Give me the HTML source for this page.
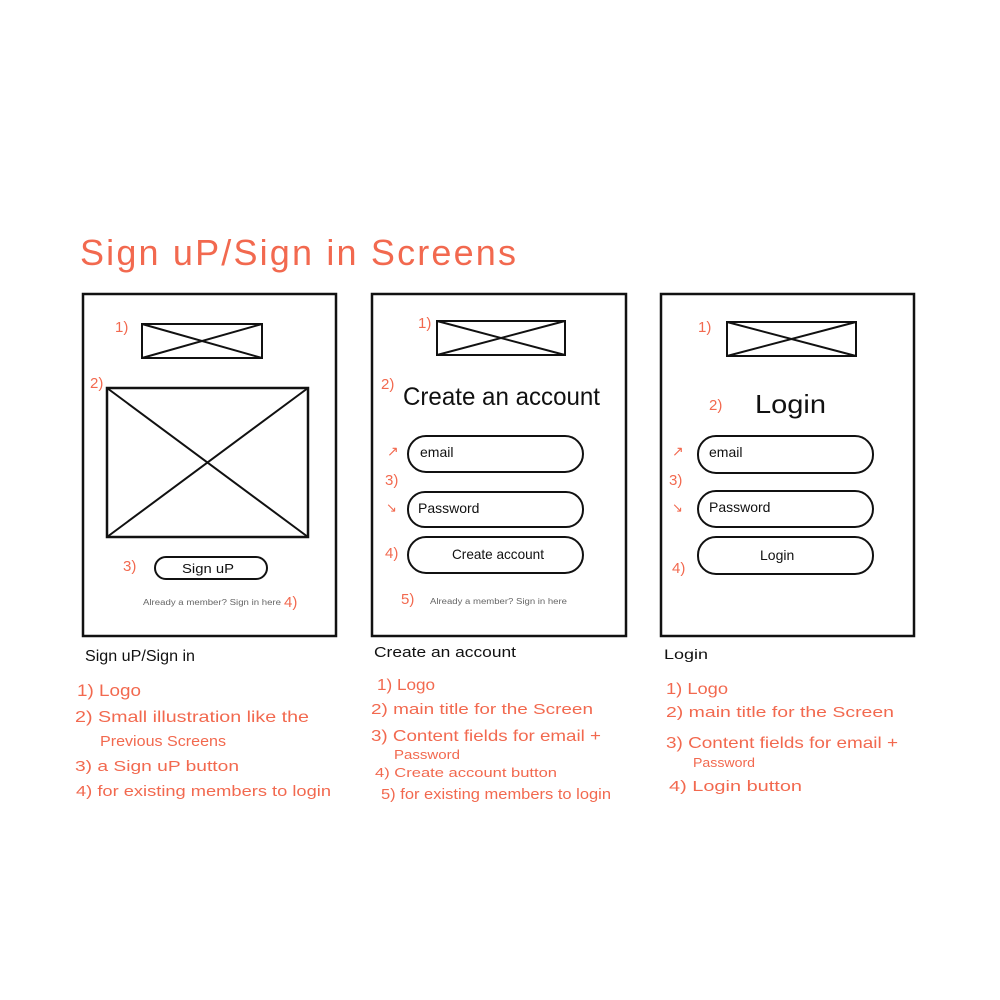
<!DOCTYPE html>
<html><head><meta charset="utf-8">
<style>
html,body{margin:0;padding:0;background:#fff;}
svg{display:block;}
text{font-family:"Liberation Sans",sans-serif;}
.r{fill:#f2694f;}
.k{fill:#111;}
.g{fill:#666;}
.f{fill:none;stroke:#111;stroke-width:2.5;}
.t{fill:none;stroke:#111;stroke-width:2;}
</style></head>
<body>
<svg width="1000" height="1000" viewBox="0 0 1000 1000" xmlns="http://www.w3.org/2000/svg">
<rect width="1000" height="1000" fill="#fff"/>
<!-- Title -->
<text class="r" x="80" y="265" font-size="36" textLength="436" lengthAdjust="spacing">Sign uP/Sign in Screens</text>

<!-- Frames -->
<rect class="f" x="83" y="294" width="253" height="342"/>
<rect class="f" x="372" y="294" width="254" height="342"/>
<rect class="f" x="661" y="294" width="253" height="342"/>

<!-- Frame 1 -->
<text class="r" x="115" y="332" font-size="15">1)</text>
<rect class="t" x="142" y="324" width="120" height="34"/>
<path class="t" d="M142 324 L262 358 M262 324 L142 358"/>
<text class="r" x="90" y="388" font-size="15">2)</text>
<rect class="f" x="107" y="388" width="201" height="149"/>
<path class="t" d="M107 388 L308 537 M308 388 L107 537"/>
<text class="r" x="123" y="571" font-size="15">3)</text>
<rect class="t" x="155" y="557" width="112" height="22" rx="11"/>
<text class="k" x="182" y="573" font-size="13" textLength="52" lengthAdjust="spacingAndGlyphs">Sign uP</text>
<text class="g" x="143" y="605" font-size="8" textLength="138" lengthAdjust="spacingAndGlyphs">Already a member? Sign in here</text>
<text class="r" x="284" y="607" font-size="15">4)</text>

<!-- Frame 2 -->
<text class="r" x="418" y="328" font-size="15">1)</text>
<rect class="t" x="437" y="321" width="128" height="34"/>
<path class="t" d="M437 321 L565 355 M565 321 L437 355"/>
<text class="r" x="381" y="389" font-size="15">2)</text>
<text class="k" x="403" y="405" font-size="25" textLength="197" lengthAdjust="spacingAndGlyphs">Create an account</text>
<rect class="t" x="408" y="436" width="175" height="36" rx="18"/>
<text class="k" x="420" y="457" font-size="14">email</text>
<text class="r" x="387" y="456" font-size="14">↗</text>
<text class="r" x="385" y="485" font-size="15">3)</text>
<text class="r" x="386" y="512" font-size="13">↘</text>
<rect class="t" x="408" y="492" width="175" height="35" rx="17"/>
<text class="k" x="418" y="513" font-size="14">Password</text>
<text class="r" x="385" y="558" font-size="15">4)</text>
<rect class="t" x="408" y="537" width="175" height="36" rx="18"/>
<text class="k" x="452" y="559" font-size="14" textLength="92" lengthAdjust="spacingAndGlyphs">Create account</text>
<text class="r" x="401" y="604" font-size="15">5)</text>
<text class="g" x="430" y="604" font-size="8" textLength="137" lengthAdjust="spacingAndGlyphs">Already a member? Sign in here</text>

<!-- Frame 3 -->
<text class="r" x="698" y="332" font-size="15">1)</text>
<rect class="t" x="727" y="322" width="129" height="34"/>
<path class="t" d="M727 322 L856 356 M856 322 L727 356"/>
<text class="r" x="709" y="410" font-size="15">2)</text>
<text class="k" x="755" y="413" font-size="26" textLength="71" lengthAdjust="spacingAndGlyphs">Login</text>
<rect class="t" x="698" y="436" width="175" height="37" rx="18"/>
<text class="k" x="709" y="457" font-size="14">email</text>
<text class="r" x="672" y="456" font-size="14">↗</text>
<text class="r" x="669" y="485" font-size="15">3)</text>
<text class="r" x="672" y="512" font-size="13">↘</text>
<rect class="t" x="698" y="491" width="175" height="36" rx="18"/>
<text class="k" x="709" y="512" font-size="14">Password</text>
<rect class="t" x="698" y="537" width="175" height="37" rx="18"/>
<text class="k" x="760" y="560" font-size="14">Login</text>
<text class="r" x="672" y="573" font-size="15">4)</text>

<!-- Column 1 notes -->
<text class="k" x="85" y="661" font-size="16" textLength="110" lengthAdjust="spacingAndGlyphs">Sign uP/Sign in</text>
<text class="r" x="77" y="696" font-size="17" textLength="64" lengthAdjust="spacingAndGlyphs">1) Logo</text>
<text class="r" x="75" y="722" font-size="16" textLength="234" lengthAdjust="spacingAndGlyphs">2) Small illustration like the</text>
<text class="r" x="100" y="746" font-size="15" textLength="126" lengthAdjust="spacingAndGlyphs">Previous Screens</text>
<text class="r" x="75" y="771" font-size="15" textLength="164" lengthAdjust="spacingAndGlyphs">3) a Sign uP button</text>
<text class="r" x="76" y="796" font-size="15" textLength="255" lengthAdjust="spacingAndGlyphs">4) for existing members to login</text>

<!-- Column 2 notes -->
<text class="k" x="374" y="657" font-size="15" textLength="142" lengthAdjust="spacingAndGlyphs">Create an account</text>
<text class="r" x="377" y="690" font-size="16" textLength="58" lengthAdjust="spacingAndGlyphs">1) Logo</text>
<text class="r" x="371" y="714" font-size="15" textLength="222" lengthAdjust="spacingAndGlyphs">2) main title for the Screen</text>
<text class="r" x="371" y="741" font-size="16" textLength="230" lengthAdjust="spacingAndGlyphs">3) Content fields for email +</text>
<text class="r" x="394" y="759" font-size="13" textLength="66" lengthAdjust="spacingAndGlyphs">Password</text>
<text class="r" x="375" y="777" font-size="13" textLength="182" lengthAdjust="spacingAndGlyphs">4) Create account button</text>
<text class="r" x="381" y="799" font-size="15" textLength="230" lengthAdjust="spacingAndGlyphs">5) for existing members to login</text>

<!-- Column 3 notes -->
<text class="k" x="664" y="659" font-size="14" textLength="44" lengthAdjust="spacingAndGlyphs">Login</text>
<text class="r" x="666" y="694" font-size="16" textLength="62" lengthAdjust="spacingAndGlyphs">1) Logo</text>
<text class="r" x="666" y="717" font-size="15" textLength="228" lengthAdjust="spacingAndGlyphs">2) main title for the Screen</text>
<text class="r" x="666" y="748" font-size="16" textLength="232" lengthAdjust="spacingAndGlyphs">3) Content fields for email +</text>
<text class="r" x="693" y="767" font-size="13" textLength="62" lengthAdjust="spacingAndGlyphs">Password</text>
<text class="r" x="669" y="791" font-size="15" textLength="133" lengthAdjust="spacingAndGlyphs">4) Login button</text>
</svg>
</body></html>
